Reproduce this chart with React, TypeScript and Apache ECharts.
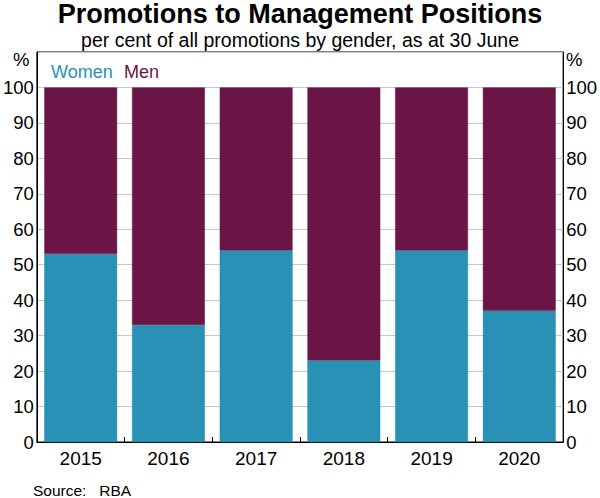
import React, { useEffect, useRef } from "react";
import * as echarts from "echarts";

const years = ["2015", "2016", "2017", "2018", "2019", "2020"];
const women = [53, 33, 54, 23, 54, 37];
const men = [47, 67, 46, 77, 46, 63];

const WOMEN_COLOR = "#2891b5";
const MEN_COLOR = "#6b1547";
const FONT = "'Liberation Sans', Arial, sans-serif";

export default function App() {
  const ref = useRef<HTMLDivElement>(null);
  useEffect(() => {
    if (!ref.current) return;
    const chart = echarts.init(ref.current, null, { renderer: "svg" });
    const yAxisBase = {
      type: "value",
      min: 0,
      max: 110,
      interval: 10,
      axisLine: { show: true, lineStyle: { color: "#000", width: 1 } },
      axisTick: { show: false },
      axisLabel: {
        color: "#000",
        fontSize: 18.5,
        fontFamily: FONT,
        margin: 3,
        formatter: (v: number) => (v > 100 ? "" : String(v)),
      },
      splitLine: { show: true, lineStyle: { color: "#c8c8c8", width: 1 } },
    };
    chart.setOption({
      animation: false,
      textStyle: { fontFamily: FONT },
      title: [
        {
          text: "Promotions to Management Positions",
          left: "center",
          top: -5,
          textStyle: { fontSize: 27, fontWeight: "bold", color: "#000", fontFamily: FONT },
        },
        {
          text: "per cent of all promotions by gender, as at 30 June",
          left: "center",
          top: 25,
          textStyle: { fontSize: 19.5, fontWeight: "normal", color: "#000", fontFamily: FONT },
        },
      ],
      grid: {
        left: 33.5,
        right: 36.5,
        top: 52,
        bottom: 56,
        show: true,
        borderColor: "#000",
        borderWidth: 1,
        containLabel: false,
      },
      xAxis: {
        type: "category",
        data: years,
        axisLine: { show: true, lineStyle: { color: "#000" } },
        axisTick: { show: true, inside: true, length: 5, alignWithLabel: false, lineStyle: { color: "#000" } },
        axisLabel: { color: "#000", fontSize: 19, fontFamily: FONT, margin: 7 },
      },
      yAxis: [
        { ...yAxisBase, position: "left" },
        { ...yAxisBase, position: "right", splitLine: { show: false } },
      ],
      graphic: [
        { type: "text", left: 13, top: 50, style: { text: "%", fontSize: 18.5, fill: "#000", fontFamily: FONT } },
        { type: "text", left: 566, top: 50, style: { text: "%", fontSize: 18.5, fill: "#000", fontFamily: FONT } },
        { type: "text", left: 51, top: 63, style: { text: "Women", fontSize: 18, fill: WOMEN_COLOR, fontFamily: FONT } },
        { type: "text", left: 124, top: 63, style: { text: "Men", fontSize: 18, fill: MEN_COLOR, fontFamily: FONT } },
        { type: "text", left: 33, top: 482, style: { text: "Source:   RBA", fontSize: 15.5, fill: "#000", fontFamily: FONT } },
      ],
      series: [
        {
          name: "Women",
          type: "bar",
          stack: "total",
          data: women,
          barWidth: "83%",
          itemStyle: { color: WOMEN_COLOR, borderColor: "#1f86ad", borderWidth: 0.5 },
        },
        {
          name: "Men",
          type: "bar",
          stack: "total",
          data: men,
          barWidth: "83%",
          itemStyle: { color: MEN_COLOR, borderColor: "#5e1240", borderWidth: 0.5 },
        },
      ],
    });
    return () => chart.dispose();
  }, []);
  return <div ref={ref} style={{ width: 600, height: 498, position: "absolute", left: 0, top: 0 }} />;
}
